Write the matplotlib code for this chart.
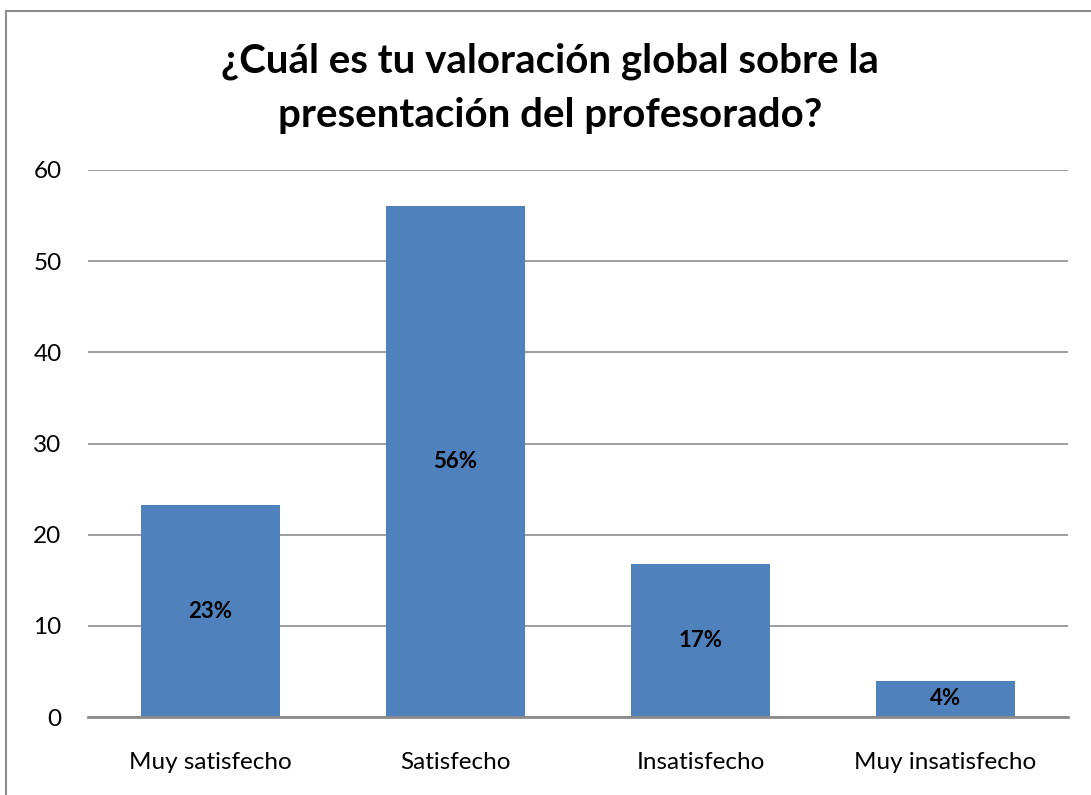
import matplotlib
matplotlib.use("Agg")
import matplotlib.pyplot as plt
from matplotlib.patches import Rectangle

categories = ["Muy satisfecho", "Satisfecho", "Insatisfecho", "Muy insatisfecho"]
values = [23.2, 56.1, 16.8, 4.0]
labels = ["23%", "56%", "17%", "4%"]
yticks = [0, 10, 20, 30, 40, 50, 60]
title = "¿Cuál es tu valoración global sobre la\npresentación del profesorado?"

plt.rcParams['font.family'] = ['Lato', 'DejaVu Sans']

W, H = 1091, 795
fig = plt.figure(figsize=(W / 100, H / 100), dpi=100)
fig.patches.append(Rectangle((6 / W, -0.1), 1.2, 1 - 11 / H + 0.1, transform=fig.transFigure,
                             fill=False, edgecolor="#8c8c8c", linewidth=1.5))

ax = fig.add_axes([88 / W, 1 - 717 / H, 980 / W, (717 - 170) / H])
x = list(range(len(categories)))
bars = ax.bar(x, values, width=0.571, color="#4f81bd", zorder=3)
for b, lab in zip(bars, labels):
    ax.text(b.get_x() + b.get_width() / 2, b.get_height() / 2, lab, ha="center", va="center",
            fontsize=16, fontweight="bold", color="black", zorder=4)

ax.set_xlim(-0.5, 3.5)
ax.set_ylim(0, 60)
ax.set_yticks(yticks)
ax.set_xticks(x)
ax.set_xticklabels(categories, fontsize=17.5)
ax.tick_params(axis="both", length=0, labelsize=17.5, colors="black")
ax.tick_params(axis="x", pad=25)
ax.tick_params(axis="y", pad=19)
ax.grid(axis="y", color="#8c8c8c", linewidth=1.2, zorder=0)
for s in ["top", "right", "left"]:
    ax.spines[s].set_visible(False)
ax.spines["bottom"].set_color("#8c8c8c")
ax.spines["bottom"].set_linewidth(2)
ax.spines["bottom"].set_zorder(5)

fig.text(550 / W, 1 - 88 / H, title, ha="center", va="center", fontsize=29,
         fontweight="bold", linespacing=1.55)

fig.savefig("out.png", dpi=100, facecolor="white")
